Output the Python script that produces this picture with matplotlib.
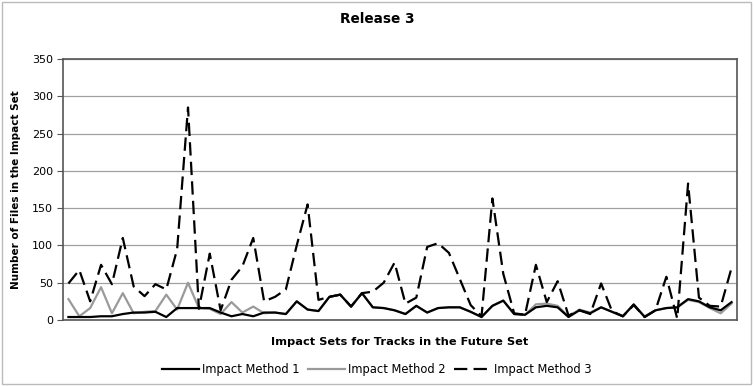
import numpy as np
import matplotlib
matplotlib.use('Agg')
import matplotlib.pyplot as plt
from matplotlib.patches import Rectangle

# ── Data (62 impact sets) ──
method1 = [4, 4, 4, 5, 5, 8, 10, 10, 11, 4,
           16, 16, 16, 16, 10, 5, 8, 5, 10, 10,
           8, 25, 14, 12, 31, 34, 18, 36, 17, 16,
           13, 8, 19, 10, 16, 17, 17, 11, 4, 19,
           26, 8, 7, 17, 19, 17, 4, 13, 9, 17,
           11, 5, 21, 4, 13, 16, 17, 28, 25, 17,
           13, 24]
method2 = [28, 5, 16, 44, 9, 36, 9, 11, 12, 34,
           14, 50, 16, 15, 8, 24, 10, 18, 9, 10,
           8, 25, 14, 12, 31, 34, 18, 36, 17, 16,
           13, 8, 19, 10, 16, 17, 17, 11, 4, 19,
           26, 8, 7, 21, 22, 19, 5, 14, 10, 17,
           11, 5, 20, 5, 13, 16, 17, 27, 24, 16,
           9, 22]
method3 = [49, 67, 25, 74, 48, 110, 45, 32, 48, 41,
           95, 285, 15, 89, 13, 54, 72, 110, 25, 31,
           41, 100, 155, 27, 31, 34, 18, 36, 38, 50,
           77, 22, 30, 98, 103, 90, 55, 20, 5, 163,
           62, 9, 7, 74, 24, 52, 6, 13, 8, 49,
           12, 5, 20, 4, 13, 58, 2, 183, 30, 19,
           18, 70]
series_labels = ['Impact Method 1', 'Impact Method 2', 'Impact Method 3']
y_ticks = [0, 50, 100, 150, 200, 250, 300, 350]

plt.rcParams['font.family'] = ['DejaVu Sans']

fig = plt.figure(figsize=(7.54, 3.86), dpi=100)
ax = fig.add_axes([63 / 754, 1 - 320 / 386, 674 / 754, 261 / 386])

x = np.arange(len(method1))
ax.plot(x, method1, color='#000000', linewidth=1.6, label=series_labels[0], zorder=3)
ax.plot(x, method2, color='#9a9a9a', linewidth=1.6, label=series_labels[1], zorder=2)
ax.plot(x, method3, color='#000000', linewidth=1.6, dashes=(6, 2.8),
        label=series_labels[2], zorder=4)

ax.set_xlim(-0.5, len(method1) - 0.5)
ax.set_ylim(0, 350)
ax.set_yticks(y_ticks)
ax.set_xticks([])
ax.tick_params(axis='y', labelsize=8, length=4, color='#555555', pad=3)
ax.yaxis.grid(True, color='#a0a0a0', linewidth=0.9)
ax.set_axisbelow(True)
for side in ['top', 'right', 'bottom', 'left']:
    ax.spines[side].set_color('#555555')
    ax.spines[side].set_linewidth(1.2)

ax.set_ylabel('Number of Files in the Impact Set', fontsize=7.5, fontweight='bold', labelpad=8)
ax.set_xlabel('Impact Sets for Tracks in the Future Set', fontsize=8.2, fontweight='bold', labelpad=12)
fig.text(0.5, 1 - 19 / 386, 'Release 3', ha='center', va='center', fontsize=9.8, fontweight='bold')

handles, labels = ax.get_legend_handles_labels()
fig.legend(handles, labels, loc='center', bbox_to_anchor=(0.5, 1 - 370 / 386), ncol=3,
           frameon=False, fontsize=8.3, handlelength=3.2, handletextpad=0.3, columnspacing=0.7)

# light outer border of the chart area
fig.patches.append(Rectangle((2 / 754, 2 / 386), 749 / 754, 382 / 386, transform=fig.transFigure,
                             fill=False, edgecolor='#bbbbbb', linewidth=1.0))

plt.savefig('out.png', dpi=100)
plt.close('all')
